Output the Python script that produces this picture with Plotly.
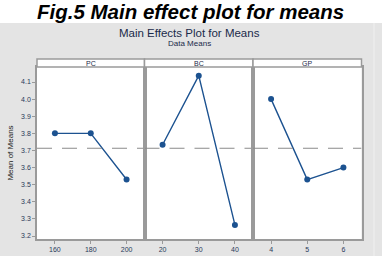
import plotly.graph_objects as go

factors = ["PC", "BC", "GP"]
levels = [["160", "180", "200"], ["20", "30", "40"], ["4", "5", "6"]]
means = [[3.80, 3.80, 3.53], [3.733, 4.137, 3.265], [4.00, 3.53, 3.60]]
grand_mean = 3.713
y_ticks = [3.2, 3.3, 3.4, 3.5, 3.6, 3.7, 3.8, 3.9, 4.0, 4.1]

W, H = 382, 256
def py(p):
    return 1 - p / H
def px(p):
    return p / W

fig = go.Figure()

panel_x = [(37, 144.5), (144.5, 253), (253, 361.5)]
plot_top, plot_bot, strip_top = 67, 239, 59
line_col = "#1c5290"
border_col = "#9a9a9a"
font_col = "#2a3a5a"

shapes = [
    dict(type="rect", xref="paper", yref="paper", x0=0, x1=1, y0=py(23), y1=1,
         fillcolor="white", line=dict(width=0), layer="below"),
    dict(type="line", xref="paper", yref="paper", x0=px(374), x1=px(374), y0=0, y1=py(23),
         line=dict(color="#f0f0f0", width=1), layer="below"),
]

for i in range(3):
    ax = "" if i == 0 else str(i + 1)
    xs = list(range(1, len(levels[i]) + 1))
    fig.add_trace(go.Scatter(
        x=xs, y=means[i], mode="lines+markers",
        line=dict(color=line_col, width=1.4),
        marker=dict(color=line_col, size=6),
        xaxis="x" + ax, yaxis="y" + ax, showlegend=False, hoverinfo="skip"))
    fig.add_trace(go.Scatter(
        x=[0.5, len(xs) + 0.5], y=[grand_mean, grand_mean], mode="lines",
        line=dict(color="#8a8a8a", width=1.2, dash="15px,10px"),
        xaxis="x" + ax, yaxis="y" + ax, showlegend=False, hoverinfo="skip"))
    x0, x1 = panel_x[i]
    fig.layout["xaxis" + ax] = dict(
        domain=[px(x0), px(x1)], range=[0.5, len(xs) + 0.5],
        tickvals=xs, ticktext=levels[i], ticks="outside", ticklen=3,
        tickcolor=border_col, showgrid=False, zeroline=False,
        showline=True, linecolor=border_col, linewidth=1.5, mirror=True,
        tickfont=dict(size=7, color=font_col, family="Liberation Sans"),
        anchor="y" + ax, fixedrange=True)
    fig.layout["yaxis" + ax] = dict(
        domain=[py(plot_bot), py(plot_top)], range=[3.1825, 4.1877],
        tickvals=y_ticks, ticktext=[f"{v:.1f}" for v in y_ticks],
        showticklabels=(i == 0), ticks="outside" if i == 0 else "", ticklen=3,
        tickcolor=border_col, showgrid=False, zeroline=False,
        showline=True, linecolor=border_col, linewidth=1.5, mirror=True,
        tickfont=dict(size=7, color=font_col, family="Liberation Sans"),
        anchor="x" + ax, fixedrange=True,
        title=dict(text="Mean of Means" if i == 0 else "",
                   font=dict(size=8, color="#222222", family="Liberation Sans"),
                   standoff=6))
    shapes.append(dict(type="rect", xref="paper", yref="paper",
                       x0=px(x0), x1=px(x1), y0=py(plot_top), y1=py(strip_top),
                       fillcolor="white", line=dict(color=border_col, width=1.5)))

annotations = [
    dict(text="<b><i>Fig.5 Main effect plot for means</i></b>", x=px(190), y=py(11),
         xref="paper", yref="paper", showarrow=False, xanchor="center", yanchor="middle",
         font=dict(size=20.5, color="black", family="Liberation Sans")),
    dict(text="Main Effects Plot for Means", x=px(189), y=py(33),
         xref="paper", yref="paper", showarrow=False, xanchor="center", yanchor="middle",
         font=dict(size=11.5, color="#1a2a4a", family="Liberation Sans")),
    dict(text="Data Means", x=px(189), y=py(43),
         xref="paper", yref="paper", showarrow=False, xanchor="center", yanchor="middle",
         font=dict(size=8, color="#1a2a4a", family="Liberation Sans")),
]
for i, f in enumerate(factors):
    x0, x1 = panel_x[i]
    annotations.append(dict(text=f, x=px((x0 + x1) / 2), y=py((plot_top + strip_top) / 2),
                            xref="paper", yref="paper", showarrow=False,
                            xanchor="center", yanchor="middle",
                            font=dict(size=7, color="#1a2a4a", family="Liberation Sans")))

fig.update_layout(width=W, height=H, margin=dict(l=0, r=0, t=0, b=0),
                  paper_bgcolor="#e4e4e4", plot_bgcolor="white",
                  shapes=shapes, annotations=annotations)

fig.write_html("out.html")
